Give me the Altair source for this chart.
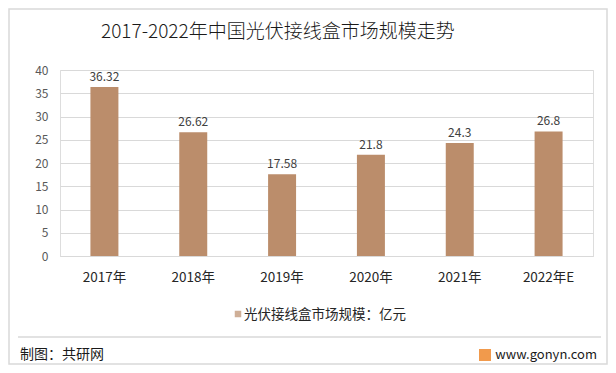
import altair as alt
import pandas as pd

years = ["2017年", "2018年", "2019年", "2020年", "2021年", "2022年E"]
values = [36.32, 26.62, 17.58, 21.8, 24.3, 26.8]
labels = ["36.32", "26.62", "17.58", "21.8", "24.3", "26.8"]
y_ticks = [0, 5, 10, 15, 20, 25, 30, 35, 40]
title_text = "2017-2022年中国光伏接线盒市场规模走势"
legend_text = "光伏接线盒市场规模：亿元"
footer_left = "制图：共研网"
footer_right = "www.gonyn.com"

BAR = "#BB8D6B"
GRID = "#D9D9D9"
FONT = "Noto Sans CJK SC"

df = pd.DataFrame({"year": years, "value": values, "label": labels})

W, H = 533, 186

x_enc = alt.X("year:N", sort=years, title=None,
              scale=alt.Scale(paddingInner=0.685, paddingOuter=0.3425),
              axis=alt.Axis(labelAngle=0, ticks=False, domainColor=GRID,
                            labelFontSize=13.5, labelColor="#262626", labelFont=FONT,
                            labelPadding=14))
y_enc = alt.Y("value:Q", title=None,
              scale=alt.Scale(domain=[0, 40], nice=False),
              axis=alt.Axis(values=y_ticks, domain=False, ticks=False, gridColor=GRID,
                            labelFontSize=12, labelColor="#595959", labelFont=FONT,
                            labelPadding=12, labelOverlap=False))

bars = alt.Chart(df).mark_bar(color=BAR).encode(x=x_enc, y=y_enc)
texts = alt.Chart(df).mark_text(dy=-10, fontSize=12, font=FONT, color="#404040").encode(
    x=x_enc, y=y_enc, text="label:N")

one = pd.DataFrame({"a": [0]})
base = alt.Chart(one)

border = base.mark_rect(fill=None, stroke=GRID, strokeWidth=1.5, clip=False).encode(
    x=alt.value(-51), x2=alt.value(547), y=alt.value(-61), y2=alt.value(294))
title = base.mark_text(text=title_text, fontSize=19, font=FONT, fontWeight=300, color="#1a1a1a",
                       align="left", baseline="middle", clip=False).encode(
    x=alt.value(41), y=alt.value(-38))
sep = base.mark_rule(color=GRID, strokeWidth=1.5, clip=False).encode(
    x=alt.value(-42), x2=alt.value(541), y=alt.value(267))
ftl = base.mark_text(text=footer_left, fontSize=14, font=FONT, color="#1a1a1a",
                     align="left", baseline="middle", clip=False).encode(
    x=alt.value(-40), y=alt.value(285))
ftr = base.mark_text(text=footer_right, fontSize=13, font=FONT, color="#1a1a1a",
                     align="right", baseline="middle", clip=False).encode(
    x=alt.value(537), y=alt.value(285))
logo = base.mark_rect(color="#F19A4C", clip=False).encode(
    x=alt.value(419), x2=alt.value(431), y=alt.value(279), y2=alt.value(291))
leg_sym = base.mark_square(color=BAR, size=42, clip=False).encode(
    x=alt.value(178), y=alt.value(244))
leg_txt = base.mark_text(text=legend_text, fontSize=13.5, font=FONT, color="#262626",
                         align="left", baseline="middle", clip=False).encode(
    x=alt.value(184), y=alt.value(245))

chart = alt.layer(bars, texts, border, title, sep, ftl, ftr, logo, leg_sym, leg_txt).properties(
    width=W, height=H,
    autosize=alt.AutoSizeParams(type="none"),
    padding={"left": 52, "top": 62, "right": 15, "bottom": 109},
).configure_view(stroke=None).configure(background="white")

chart.save("out.html", embed_options={"renderer": "svg", "actions": False})
